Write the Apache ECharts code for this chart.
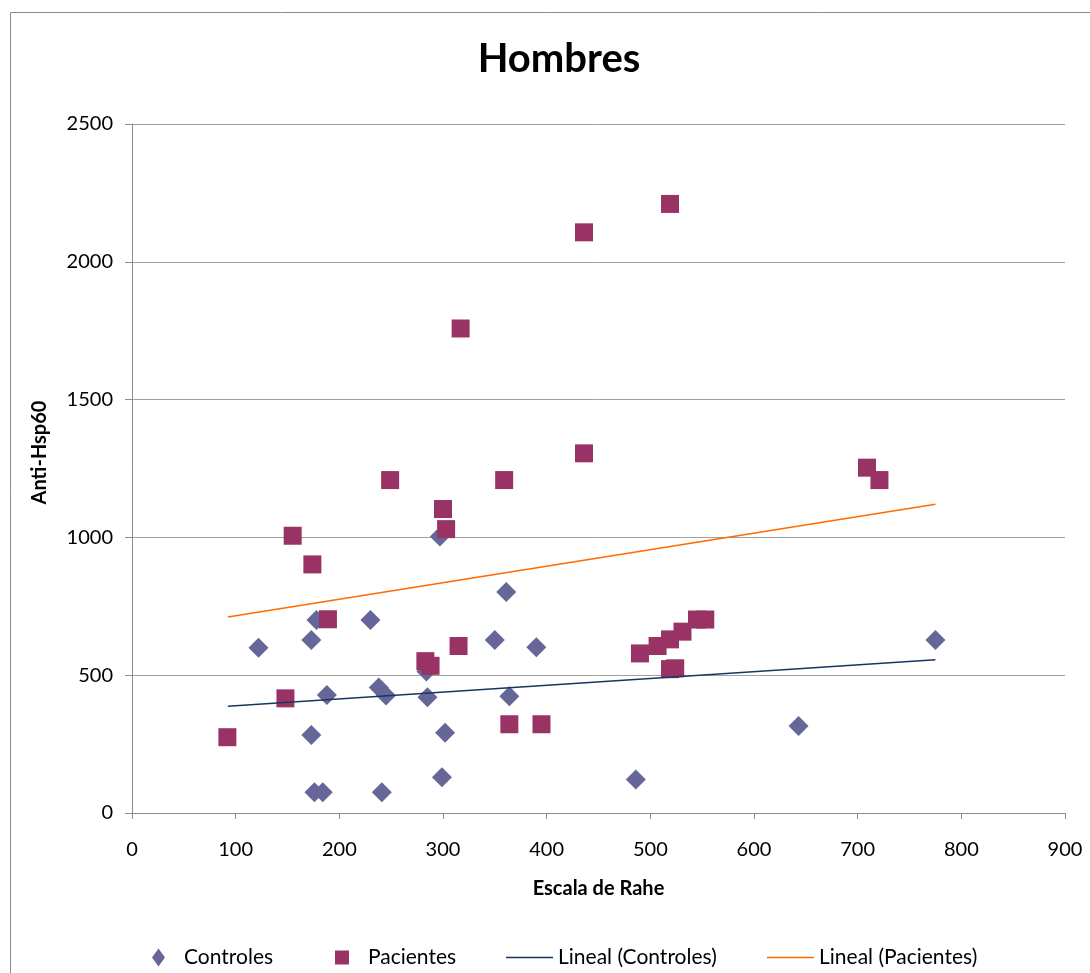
<!DOCTYPE html>
<html>
<head>
<meta charset="utf-8">
<script src="https://cdn.jsdelivr.net/npm/echarts@6/dist/echarts.min.js"></script>
<style>
  html, body { margin: 0; padding: 0; background: #fff; }
  #chart { width: 1090px; height: 973px; }
</style>
</head>
<body>
<div id="chart"></div>
<script>
// ---- Data ----
const controles = [
  [122, 600], [173, 628], [178, 700], [230, 700], [188, 428], [238, 455],
  [245, 426], [285, 420], [284, 513], [173, 283], [302, 291], [176, 75],
  [184, 75], [241, 75], [299, 130], [297, 1003], [361, 802], [350, 628],
  [390, 601], [364, 424], [486, 122], [643, 316], [775, 628]
];
const pacientes = [
  [92, 275], [148, 416], [155, 1006], [174, 902], [189, 703], [249, 1208],
  [283, 551], [288, 534], [300, 1103], [303, 1030], [315, 606], [317, 1758],
  [359, 1208], [364, 322], [395, 322], [436, 2107], [436, 1305], [490, 579],
  [507, 606], [519, 630], [519, 522], [524, 525], [531, 658], [545, 702],
  [553, 702], [519, 2210], [709, 1253], [721, 1208]
];
// Trend line end points as drawn in the reference
const linealControles = [[92.5, 387], [775, 556]];
const linealPacientes = [[92.5, 711], [775, 1120]];

const seriesNames = ['Controles', 'Pacientes', 'Lineal (Controles)', 'Lineal (Pacientes)'];
const titleText = 'Hombres';
const xAxisName = 'Escala de Rahe';
const yAxisName = 'Anti-Hsp60';

const FONT = 'Lato, "Noto Sans", sans-serif';
const LINE_ICON = 'path://M0,0 L47,0 L47,1.5 L0,1.5 Z';

const chart = echarts.init(document.getElementById('chart'));
function legendBox(left, name, icon, w, h, padLeft) {
  return {
    top: 942,
    left: left,
    itemWidth: w,
    itemHeight: h,
    height: 24,
    selectedMode: false,
    data: [{ name: name, icon: icon }],
    textStyle: { fontFamily: FONT, fontSize: 21, color: '#000', padding: [0, 0, 0, padLeft] }
  };
}
chart.setOption({
  animation: false,
  backgroundColor: '#fff',
  graphic: [{
    type: 'rect',
    shape: { x: 10.5, y: 12.5, width: 1200, height: 1200 },
    style: { fill: 'none', stroke: '#8c8c8c', lineWidth: 1 },
    silent: true, z: -10
  }],
  title: {
    text: titleText,
    left: 554,
    textAlign: 'center',
    top: 34,
    textStyle: { fontFamily: FONT, fontSize: 40, fontWeight: 'bold', color: '#000' }
  },
  legend: [
    legendBox(147, seriesNames[0], 'diamond', 13, 18, 14),
    legendBox(330, seriesNames[1], 'rect', 14, 14, 14),
    legendBox(501, seriesNames[2], LINE_ICON, 47, 16, 0),
    legendBox(762, seriesNames[3], LINE_ICON, 47, 16, 0)
  ],
  grid: { left: 132, right: 25, top: 124, bottom: 160, containLabel: false },
  xAxis: {
    type: 'value',
    min: 0, max: 900, interval: 100,
    name: xAxisName,
    nameLocation: 'middle',
    nameGap: 66,
    nameTextStyle: { fontFamily: FONT, fontSize: 20, fontWeight: 'bold', color: '#000' },
    axisLine: { show: true, onZero: false, lineStyle: { color: '#8c8c8c', width: 1 } },
    axisTick: { show: true, length: 6, lineStyle: { color: '#8c8c8c' } },
    axisLabel: { fontFamily: FONT, fontSize: 20, color: '#000', margin: 27, formatter: function (v) { return String(v); } },
    splitLine: { show: false }
  },
  yAxis: {
    type: 'value',
    min: 0, max: 2500, interval: 500,
    name: yAxisName,
    nameLocation: 'middle',
    nameGap: 82,
    nameRotate: 90,
    nameTextStyle: { fontFamily: FONT, fontSize: 20, fontWeight: 'bold', color: '#000', padding: [0, 0, 0, 32] },
    axisLine: { show: true, lineStyle: { color: '#8c8c8c', width: 1 } },
    axisTick: { show: true, length: 7, lineStyle: { color: '#8c8c8c' } },
    axisLabel: { fontFamily: FONT, fontSize: 20, color: '#000', margin: 19, formatter: function (v) { return String(v); } },
    splitLine: { show: true, lineStyle: { color: '#a0a0a0', width: 1 } }
  },
  series: [
    {
      name: seriesNames[0], type: 'scatter', data: controles,
      symbol: 'diamond', symbolSize: 20,
      itemStyle: { color: '#666699', opacity: 1 }, z: 2
    },
    {
      name: seriesNames[1], type: 'scatter', data: pacientes,
      symbol: 'rect', symbolSize: 18,
      itemStyle: { color: '#993366', opacity: 1 }, z: 3
    },
    {
      name: seriesNames[2], type: 'line', data: linealControles,
      symbol: 'none', showSymbol: false,
      lineStyle: { color: '#17375e', width: 1.5 }, itemStyle: { color: '#17375e' }, z: 4
    },
    {
      name: seriesNames[3], type: 'line', data: linealPacientes,
      symbol: 'none', showSymbol: false,
      lineStyle: { color: '#ff6a00', width: 1.5 }, itemStyle: { color: '#ff6a00' }, z: 4
    }
  ]
});
</script>
</body>
</html>
